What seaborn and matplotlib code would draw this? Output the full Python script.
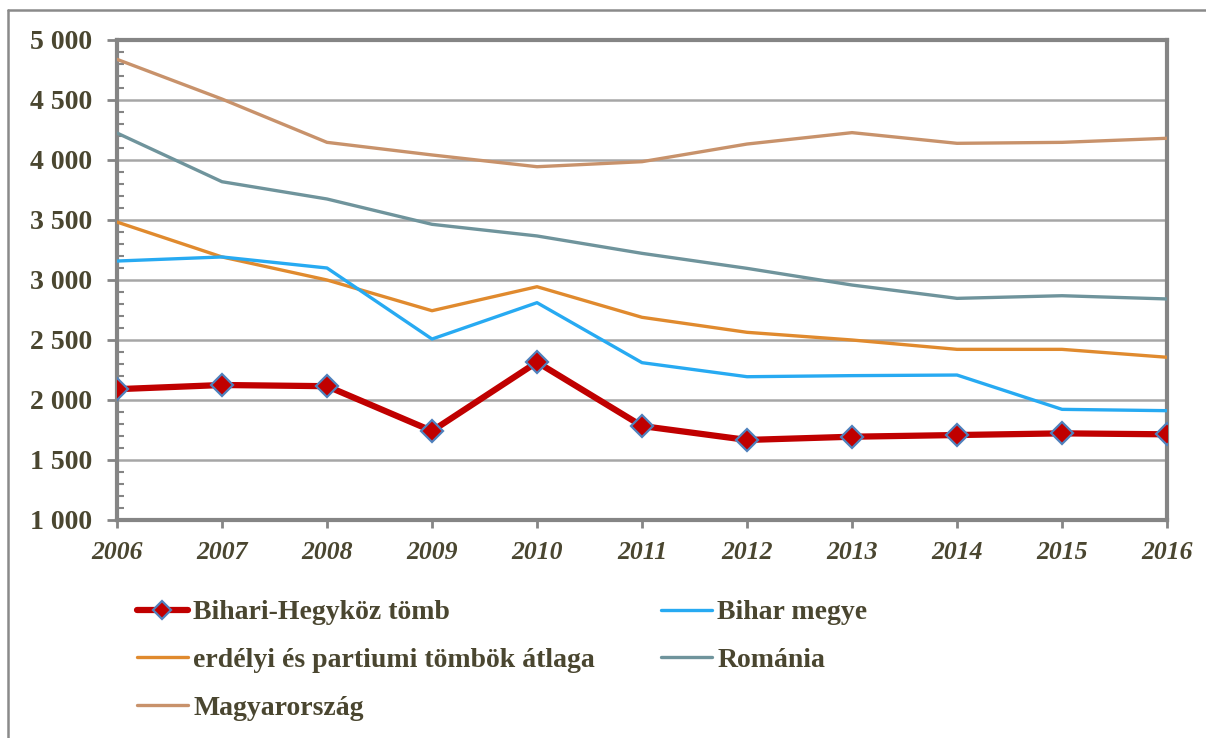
import pandas as pd
import seaborn as sns
import matplotlib.pyplot as plt
from matplotlib.lines import Line2D
from matplotlib.ticker import FuncFormatter, MultipleLocator

years = [2006, 2007, 2008, 2009, 2010, 2011, 2012, 2013, 2014, 2015, 2016]
bihari_hegykoz = [2090, 2125, 2115, 1742, 2315, 1783, 1667, 1694, 1708, 1722, 1714]
bihar_megye = [3158, 3192, 3100, 2508, 2811, 2311, 2194, 2203, 2208, 1922, 1911]
erdelyi_atlag = [3483, 3192, 3000, 2744, 2944, 2689, 2564, 2500, 2422, 2422, 2356]
romania = [4225, 3819, 3675, 3464, 3367, 3222, 3097, 2958, 2847, 2869, 2842]
magyarorszag = [4839, 4508, 4147, 4042, 3944, 3986, 4133, 4228, 4139, 4147, 4181]

names = ["Bihari-Hegyköz tömb", "Bihar megye", "erdélyi és partiumi tömbök átlaga",
         "Románia", "Magyarország"]
colors = {
    "Bihari-Hegyköz tömb": "#C00000",
    "Bihar megye": "#27AAF2",
    "erdélyi és partiumi tömbök átlaga": "#E08A2E",
    "Románia": "#6F949C",
    "Magyarország": "#C8926B",
}
text_col = "#4A4630"

sns.set_theme(style="white")
plt.rcParams['font.family'] = ['Liberation Serif', 'DejaVu Serif']
plt.rcParams['font.weight'] = 'bold'

fig = plt.figure(figsize=(12.06, 7.38), dpi=100)
ax = fig.add_axes([0.097, 0.2954, 0.8707, 0.6504])

# thin series first, red one last so it sits on top
series = [
    ("Magyarország", magyarorszag),
    ("Románia", romania),
    ("erdélyi és partiumi tömbök átlaga", erdelyi_atlag),
    ("Bihar megye", bihar_megye),
]
for name, vals in series:
    df = pd.DataFrame({"year": years, "value": vals})
    sns.lineplot(data=df, x="year", y="value", ax=ax, color=colors[name],
                 linewidth=2.4, label=name, zorder=3)

df = pd.DataFrame({"year": years, "value": bihari_hegykoz})
sns.lineplot(data=df, x="year", y="value", ax=ax, color=colors["Bihari-Hegyköz tömb"],
             linewidth=4.5, marker="D", markersize=11, markerfacecolor="#C00000",
             markeredgecolor="#4F81BD", markeredgewidth=1.6,
             label="Bihari-Hegyköz tömb", zorder=5)

ax.set_xlim(2006, 2016)
ax.set_ylim(1000, 5000)
ax.set_xticks(years)
ax.yaxis.set_major_locator(MultipleLocator(500))
ax.yaxis.set_minor_locator(MultipleLocator(100))
ax.yaxis.set_major_formatter(FuncFormatter(lambda v, p: f"{int(v):,}".replace(",", " ")))
ax.set_xlabel("")
ax.set_ylabel("")

ax.grid(axis="y", which="major", color="#A6A6A6", linewidth=1.8, zorder=0)
ax.set_axisbelow(True)
for s in ax.spines.values():
    s.set_visible(True)
    s.set_color("#858585")
    s.set_linewidth(3)

ax.tick_params(axis="y", which="major", direction="out", length=7, width=2,
               color="#858585", labelsize=20, labelcolor=text_col, pad=11, left=True)
ax.tick_params(axis="y", which="minor", direction="in", length=5, width=1.5,
               color="#858585", left=True)
ax.tick_params(axis="x", which="major", direction="out", length=6, width=2,
               color="#858585", labelsize=18.5, labelcolor=text_col, pad=9, bottom=True)
for lab in ax.get_xticklabels():
    lab.set_fontstyle("italic")
    lab.set_fontweight("bold")
for lab in ax.get_yticklabels():
    lab.set_fontweight("bold")

# legend, row-wise order in two columns
handles, labels = ax.get_legend_handles_labels()
hmap = dict(zip(labels, handles))
order = ["Bihari-Hegyköz tömb", "erdélyi és partiumi tömbök átlaga", "Magyarország",
         "Bihar megye", "Románia"]
if ax.legend_:
    ax.legend_.remove()
leg = fig.legend([hmap[o] for o in order], order, ncol=2, loc="upper left",
                 bbox_to_anchor=(0.104, 0.202), frameon=False,
                 prop={"family": "Liberation Serif", "weight": "bold", "size": 20},
                 handlelength=1.85, handletextpad=0.2, columnspacing=2.35,
                 labelspacing=0.8, borderaxespad=0, markerscale=0.85)
for t in leg.get_texts():
    t.set_color(text_col)

# outer chart frame
fig.add_artist(Line2D([0.0066, 0.0066], [0.0, 0.9864], transform=fig.transFigure,
                      color="#8A8A8A", linewidth=1.8))
fig.add_artist(Line2D([0.0066, 1.0], [0.9864, 0.9864], transform=fig.transFigure,
                      color="#8A8A8A", linewidth=1.8))

fig.savefig("out.png", dpi=100, facecolor="white")
